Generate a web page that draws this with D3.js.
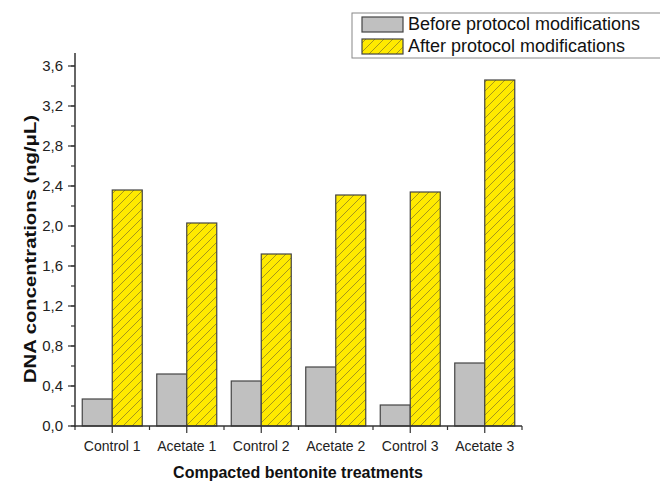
<!DOCTYPE html>
<html><head><meta charset="utf-8">
<script src="https://cdn.jsdelivr.net/npm/d3@7"></script>
<style>body{margin:0;background:#fff}svg{display:block}text{font-family:"Liberation Sans",Arial,sans-serif}</style>
</head><body><svg id="c" width="660" height="481"></svg>
<script>
const categories=["Control 1","Acetate 1","Control 2","Acetate 2","Control 3","Acetate 3"];
const before=[0.27,0.52,0.45,0.59,0.21,0.63];
const after=[2.36,2.03,1.72,2.31,2.34,3.46];
const yTicks=[0,0.4,0.8,1.2,1.6,2.0,2.4,2.8,3.2,3.6];
const seriesNames=["Before protocol modifications","After protocol modifications"];

const svg=d3.select("#c");
const x=d3.scaleBand().domain(categories).range([75,522]).paddingInner(0).paddingOuter(0);
const y=d3.scaleLinear().domain([0,3.73]).range([426,53]);
const defs=svg.append("defs");
const P=9;
const pat=defs.append("pattern").attr("id","hatch").attr("patternUnits","userSpaceOnUse").attr("width",P).attr("height",P);
pat.append("rect").attr("width",P).attr("height",P).attr("fill","#ffea00");
pat.append("path").attr("d",`M-2,2 L2,-2 M0,${P} L${P},0 M${P-2},${P+2} L${P+2},${P-2}`).attr("stroke","#8f8222").attr("stroke-width",0.8);

const bw=30, pad=(x.bandwidth()-2*bw)/2;
const g=svg.append("g");
g.selectAll(".b").data(categories).join("rect")
 .attr("x",d=>x(d)+pad).attr("width",bw)
 .attr("y",(d,i)=>y(before[i])).attr("height",(d,i)=>y(0)-y(before[i]))
 .attr("fill","#c0c0c0").attr("stroke","#444").attr("stroke-width",1.2);
g.selectAll(".a").data(categories).join("rect")
 .attr("x",d=>x(d)+pad+bw).attr("width",bw)
 .attr("y",(d,i)=>y(after[i])).attr("height",(d,i)=>y(0)-y(after[i]))
 .attr("fill","url(#hatch)").attr("stroke","#444").attr("stroke-width",1.2);

// y axis
const ya=svg.append("g").attr("transform","translate(75,0)");
ya.append("line").attr("y1",y(0)+1).attr("y2",y(3.73)).attr("stroke","#333").attr("stroke-width",1.5);
const minor=d3.range(0,3.7,0.2);
ya.selectAll(".mn").data(minor).join("line").attr("x1",-4).attr("x2",0).attr("y1",d=>y(d)).attr("y2",d=>y(d)).attr("stroke","#333").attr("stroke-width",1.2);
ya.selectAll(".mj").data(yTicks).join("line").attr("x1",-7).attr("x2",0).attr("y1",d=>y(d)).attr("y2",d=>y(d)).attr("stroke","#333").attr("stroke-width",1.2);
ya.selectAll(".tl").data(yTicks).join("text").attr("x",-12).attr("y",d=>y(d)).attr("dy","0.35em").attr("text-anchor","end").attr("font-size",15).attr("fill","#222").text(d=>d.toFixed(1).replace(".",","));

// x axis
const xa=svg.append("g").attr("transform","translate(0,426)");
xa.append("line").attr("x1",74).attr("x2",522).attr("stroke","#333").attr("stroke-width",1.5);
const bounds=categories.map(c=>x(c)).concat([x.range()[1]]);
xa.selectAll(".bd").data(bounds).join("line").attr("x1",d=>d).attr("x2",d=>d).attr("y1",0).attr("y2",4).attr("stroke","#333").attr("stroke-width",1.2);
xa.selectAll(".ct").data(categories).join("line").attr("x1",d=>x(d)+x.bandwidth()/2).attr("x2",d=>x(d)+x.bandwidth()/2).attr("y1",0).attr("y2",7).attr("stroke","#333").attr("stroke-width",1.2);
xa.selectAll(".cl").data(categories).join("text").attr("x",d=>x(d)+x.bandwidth()/2).attr("y",25).attr("text-anchor","middle").attr("font-size",14).attr("fill","#222").text(d=>d);

svg.append("text").attr("x",298).attr("y",478).attr("text-anchor","middle").attr("font-size",16).attr("font-weight","bold").attr("fill","#111").text("Compacted bentonite treatments");
svg.append("text").attr("transform","translate(36,249) rotate(-90)").attr("text-anchor","middle").attr("font-size",17).attr("font-weight","bold").attr("fill","#111")
 .attr("textLength",268).attr("lengthAdjust","spacingAndGlyphs").text("DNA concentrations (ng/μL)");

// legend
const lg=svg.append("g");
lg.append("rect").attr("x",352).attr("y",13).attr("width",320).attr("height",45).attr("fill","#fff").attr("stroke","#888").attr("stroke-width",1);
const fills=["#c0c0c0","url(#hatch)"];
seriesNames.forEach((n,i)=>{
  lg.append("rect").attr("x",362).attr("y",17+i*22).attr("width",41).attr("height",15).attr("fill",fills[i]).attr("stroke","#444").attr("stroke-width",1.2);
  lg.append("text").attr("x",408).attr("y",30+i*22).attr("font-size",18).attr("fill","#111").text(n);
});
</script></body></html>
